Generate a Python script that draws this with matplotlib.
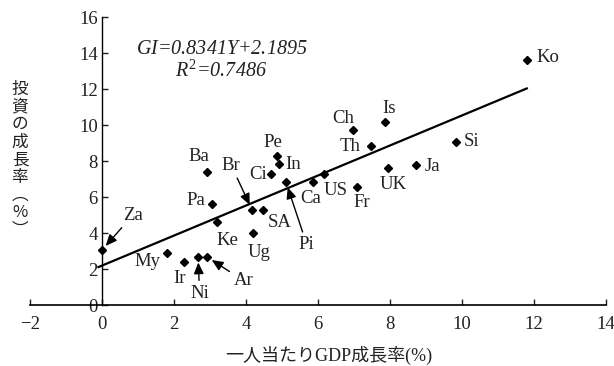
import matplotlib
matplotlib.use("Agg")
import matplotlib.pyplot as plt
import numpy as np

plt.rcParams['font.family'] = ['Liberation Serif', 'Noto Sans CJK JP', 'DejaVu Sans']
plt.rcParams['mathtext.fontset'] = 'custom'
plt.rcParams['mathtext.rm'] = 'Liberation Serif'
plt.rcParams['mathtext.it'] = 'Liberation Serif:italic'

# Data
countries = ["Za", "My", "Ir", "Ni", "Ar", "Pa", "Ba", "Ke", "Br", "SA", "Ug", "Ci", "Pe",
             "In", "Pi", "Ca", "US", "Fr", "UK", "Ja", "Si", "Ko", "Th", "Ch", "Is"]
gdp_growth = [0.0, 1.8, 2.28, 2.67, 2.92, 3.06, 2.92, 3.2, 4.17, 4.47, 4.2, 4.69, 4.86,
              4.92, 5.11, 5.86, 6.17, 7.08, 7.95, 8.73, 9.83, 11.8, 7.47, 6.98, 7.85]
inv_growth = [3.05, 2.9, 2.4, 2.67, 2.67, 5.6, 7.4, 4.6, 5.28, 5.28, 4.0, 7.26, 8.28,
              7.83, 6.83, 6.83, 7.26, 6.56, 7.6, 7.8, 9.07, 13.6, 8.83, 9.73, 10.15]
slope = 0.8341
intercept = 2.1895
r2 = 0.7486
fit_range = [-0.1, 11.8]
x_ticks = [-2, 0, 2, 4, 6, 8, 10, 12, 14]
y_ticks = [0, 2, 4, 6, 8, 10, 12, 14, 16]

# label offsets (points) relative to marker, and whether an arrow is drawn
label_offsets = {
    "Za": (22, 25, True), "My": (-14, -6, False), "Ir": (-3, -12, False),
    "Ni": (1, -26, True), "Ar": (26, -17, True), "Pa": (-12, 3, False),
    "Ba": (-6, 11, False), "Ke": (7, -13, False), "Br": (-15, 32, True),
    "SA": (12, -9, False), "Ug": (4, -14, False), "Ci": (-9.5, 0, False),
    "Pe": (-3, 9.5, False), "In": (10, 0, False), "Pi": (15, -45, True),
    "Ca": (-1.5, -11.5, False), "US": (8, -11.5, False), "Fr": (3.6, -11.5, False),
    "UK": (3.6, -12, False), "Ja": (11.5, -1.5, False), "Si": (11.5, 0, False),
    "Ko": (15, 2, False), "Th": (-15, 0, False), "Ch": (-7, 8.5, False),
    "Is": (3, 10, False),
}

fig = plt.figure(figsize=(6.14, 3.66), dpi=100)
ax = fig.add_axes([30 / 614, (366 - 305) / 366, 576 / 614, 288 / 366])
ax.set_xlim(-2, 14)
ax.set_ylim(0, 16)

ax.spines['top'].set_visible(False)
ax.spines['right'].set_visible(False)
ax.spines['left'].set_position(('data', 0))
ax.spines['left'].set_linewidth(1.0)
ax.spines['bottom'].set_linewidth(1.2)
ax.set_xticks(x_ticks)
ax.set_yticks(y_ticks)
ax.tick_params(direction='in', length=4, width=1, labelsize=13.5, colors='#222222')
ax.tick_params(axis='x', pad=8)
ax.tick_params(axis='y', pad=3)

xs = np.array(fit_range)
ax.plot(xs, slope * xs + intercept, color='black', lw=1.6, zorder=2)
ax.plot(gdp_growth, inv_growth, linestyle='none', marker='D', markersize=4.5,
        color='black', zorder=3)

for name, x, y in zip(countries, gdp_growth, inv_growth):
    dx, dy, arrow = label_offsets[name]
    kw = dict(xy=(x, y), xytext=(dx, dy), textcoords='offset points',
              ha='center', va='center', fontsize=13.5, color='#222222', zorder=4)
    if arrow:
        kw['arrowprops'] = dict(arrowstyle='-|>,head_length=0.5,head_width=0.22',
                                color='black', lw=1.0, shrinkA=1, shrinkB=4)
    ax.annotate(name, **kw)

ax.text(3.32, 14.2, r'$GI$=0.8341$Y$+2.1895', fontsize=14.5, style='italic',
        ha='center', va='center', color='#222222')
ax.text(3.32, 13.0, r'$R^2$=0.7486', fontsize=14.5, style='italic',
        ha='center', va='center', color='#222222')

fig.text(329 / 614, 1 - 355 / 366, '一人当たりGDP成長率(%)', ha='center', va='center',
         fontsize=13, color='#222222', family=['Liberation Serif', 'Noto Sans CJK JP'])
fig.text(20 / 614, 1 - 160 / 366, '投\n資\nの\n成\n長\n率\n︵\n%\n︶', ha='center', va='center',
         fontsize=12, color='#222222', linespacing=1.05,
         family=['Noto Sans CJK JP', 'Liberation Serif'])

fig.savefig('out.png', dpi=100)
